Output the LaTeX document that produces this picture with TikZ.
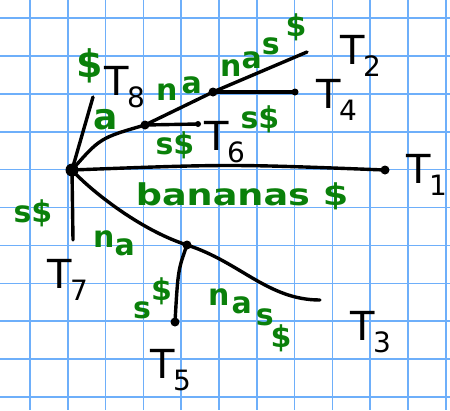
\documentclass[tikz,border=0pt]{standalone}
\usepackage{fontspec}
\setmainfont{DejaVu Sans}
\definecolor{gridblue}{RGB}{110,175,250}
\definecolor{pengreen}{RGB}{10,128,10}
\newcommand\Tlab[1]{T\kern-0.04em\raisebox{-0.3em}{\fontsize{28}{28}\selectfont #1}}
\newcommand\rb[2]{\raisebox{#1}{#2}}
\begin{document}
\begin{tikzpicture}[x=1pt,y=-1pt,
  gridline/.style={draw=gridblue,line width=1.6pt},
  edge/.style={draw=black,line width=3.4pt,line cap=round},
  bigdot/.style={circle,fill=black,inner sep=0pt,minimum size=13pt},
  smalldot/.style={circle,fill=black,inner sep=0pt,minimum size=9pt},
  lbl/.style={text=pengreen,font=\fontsize{30}{30}\selectfont\bfseries,inner sep=0pt},
  tl/.style={text=black,font=\fontsize{40}{40}\selectfont,inner sep=0pt,anchor=base west}]
\useasboundingbox (0,0) rectangle (450,410);
\clip (0,0) rectangle (450,410);
\fill[white] (0,0) rectangle (450,410);
\foreach \i in {0,...,11} \draw[gridline] ({30+37.8*\i},0) -- ({30+37.8*\i},410);
\foreach \j in {0,...,10} \draw[gridline] (0,{18+37.9*\j}) -- (450,{18+37.9*\j});
% nodes
\node[bigdot] (R) at (72,170) {};
\node[smalldot] (A) at (145,125) {};
\node[smalldot] (B) at (213,92) {};
\node[smalldot] (C) at (187,245) {};
\node[smalldot] (e1) at (385,170) {};
\node[smalldot,minimum size=7pt] (e4) at (295,92) {};
\node[smalldot,minimum size=6pt] (e6) at (198,124) {};
\node[smalldot] (e5) at (175,322) {};
\coordinate (e2) at (307,52);
\coordinate (e3) at (320,300);
\coordinate (e7) at (73,240);
\coordinate (e8) at (93,97);
% edges
\draw[edge] (R.center) -- (e8);
\draw[edge] (R.center) .. controls (100,138) .. (A.center);
\draw[edge] (A.center) -- (B.center);
\draw[edge] (B.center) -- (e2);
\draw[edge] (B.center) -- (e4.center);
\draw[edge] (A.center) -- (e6.center);
\draw[edge] (R.center) .. controls (230,164) .. (e1.center);
\draw[edge] (R.center) .. controls (90,190) and (140,230) .. (C.center);
\draw[edge] (C.center) .. controls (240,262) and (268,300) .. (e3);
\draw[edge] (C.center) .. controls (178,270) .. (e5.center);
\draw[edge] (R.center) -- (e7);
% edge labels
\node[lbl,font=\fontsize{38}{38}\selectfont\bfseries] (l8) at (90,66) {\$};
\node[lbl,font=\fontsize{36}{36}\selectfont\bfseries] (la) at (106,120) {a};
\node[lbl,anchor=base west] (lna) at (156,100) {n\kern4pt\rb{7pt}{a}};
\node[lbl,anchor=base west] (lnas) at (220,76) {n\rb{8pt}{a}\rb{22pt}{s}\kern6pt\rb{40pt}{\$}};
\node[lbl] (ls4) at (260,119) {s\$};
\node[lbl] (ls6) at (175,145) {s\$};
\node[lbl,xscale=1.22] (lban) at (242,196) {bananas \$};
\node[lbl] (ls7) at (33,213) {s\$};
\node[lbl,anchor=base west] (lna2) at (93,247) {n\rb{-8pt}{a}};
\node[lbl,anchor=base west] (ls5) at (133,318) {s\rb{18pt}{\$}};
\node[lbl,anchor=base west] (lnas2) at (208,305) {n\kern2pt\rb{-8pt}{a}\kern4pt\rb{-20pt}{s}\kern-3pt\rb{-42pt}{\$}};
% leaf labels
\node[tl] (T8) at (104,95) {\Tlab{8}};
\node[tl] (T2) at (340,64) {\Tlab{2}};
\node[tl] (T4) at (316,108) {\Tlab{4}};
\node[tl] (T6) at (204,150) {\Tlab{6}};
\node[tl] (T1) at (406,183) {\Tlab{1}};
\node[tl] (T7) at (47,288) {\Tlab{7}};
\node[tl] (T5) at (150,378) {\Tlab{5}};
\node[tl] (T3) at (350,340) {\Tlab{3}};
\end{tikzpicture}
\end{document}
